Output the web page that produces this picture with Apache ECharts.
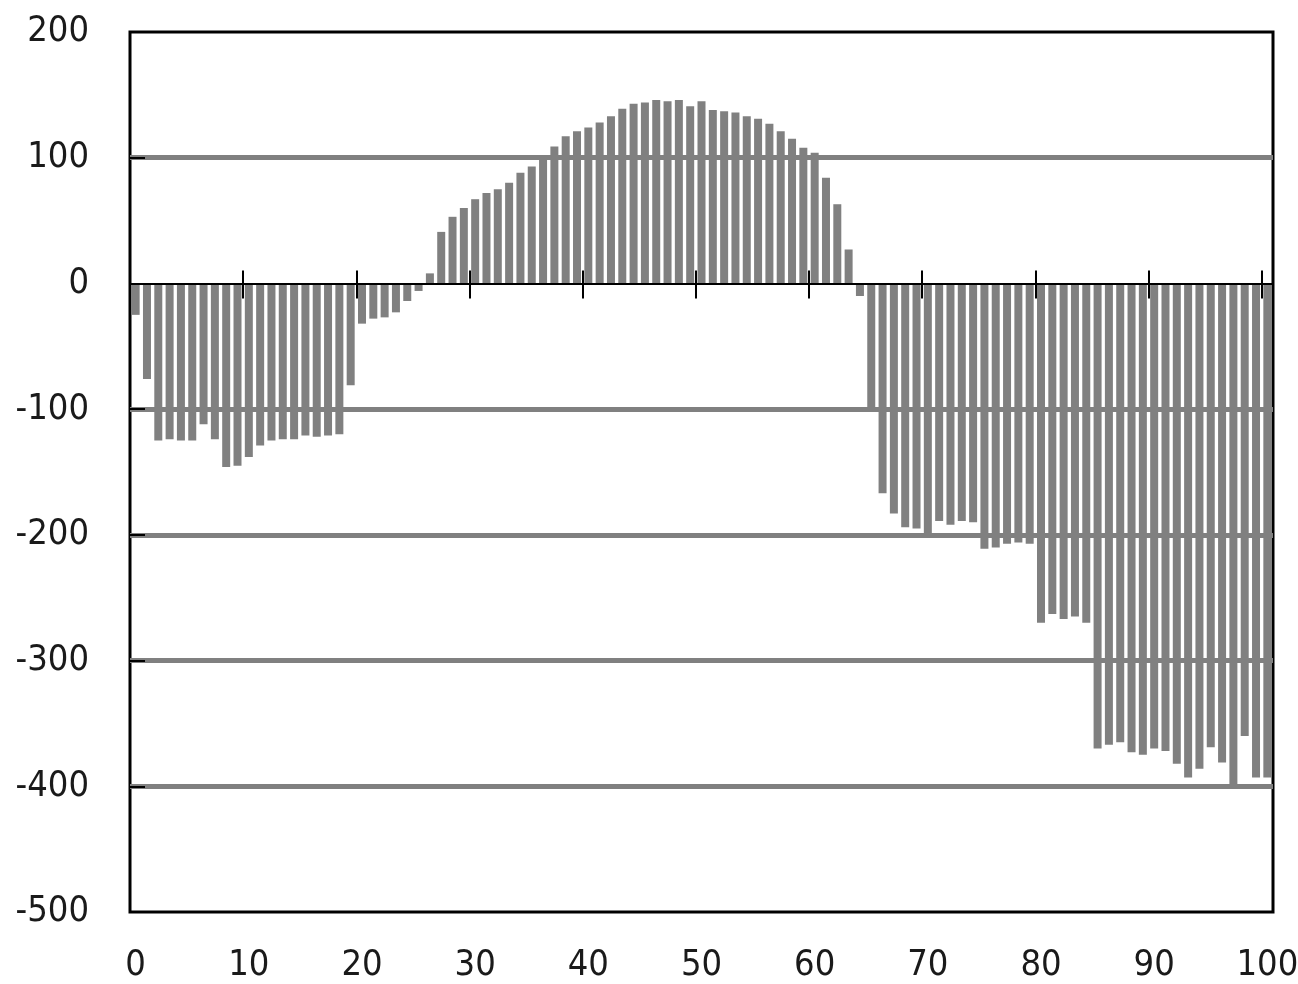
<!DOCTYPE html>
<html>
<head>
<meta charset="utf-8">
<script src="https://cdn.jsdelivr.net/npm/echarts@6/dist/echarts.min.js"></script>
<style>
html,body{margin:0;padding:0;background:#fff;}
#chart{width:1298px;height:984px;}
</style>
</head>
<body>
<div id="chart"></div>
<script>
// category index labels 0..100
const categories = Array.from({length: 101}, (_, i) => String(i));
const values = [
  -25, -76, -125, -124, -125, -125, -112, -124, -146, -145,
  -138, -129, -125, -124, -124, -121, -122, -121, -120, -81,
  -32, -28, -27, -23, -14, -6, 8, 41, 53, 60,
  67, 72, 75, 80, 88, 93, 102, 109, 117, 121,
  124, 128, 133, 139, 143, 144, 146, 145, 146, 141,
  145, 138, 137, 136, 133, 131, 127, 121, 115, 108,
  104, 84, 63, 27, -10, -99, -167, -183, -194, -195,
  -200, -189, -192, -189, -190, -211, -210, -207, -206, -207,
  -270, -263, -267, -265, -270, -370, -367, -365, -373, -375,
  -370, -372, -382, -393, -386, -369, -381, -400, -360, -393,
  -393
];
const yMin = -500, yMax = 200, yStep = 100;

const FONT = "'Liberation Sans Narrow', 'DejaVu Sans Condensed', sans-serif";
const chart = echarts.init(document.getElementById('chart'));
const labelStyle = {fontFamily: FONT, fontSize: 36, color: '#1a1a1a'};

chart.setOption({
  animation: false,
  grid: {left: 130, right: 25, top: 32, bottom: 72, show: true,
         outerBoundsMode: 'none', containLabel: false,
         borderColor: '#000', borderWidth: 3, backgroundColor: 'transparent'},
  xAxis: [
    {type: 'category', data: categories, boundaryGap: true, position: 'bottom',
     axisLine: {show: false, onZero: false}, axisTick: {show: false},
     splitLine: {show: false},
     axisLabel: Object.assign({interval: 9, margin: 36}, labelStyle)},
    {type: 'category', data: categories, boundaryGap: true, z: 10, position: 'bottom',
     axisLine: {show: true, onZero: true, onZeroAxisIndex: 0, lineStyle: {color: '#000', width: 2}},
     axisTick: {show: true, interval: 9, inside: true, length: 13, lineStyle: {color: '#000', width: 2}},
     axisLabel: {show: false}, splitLine: {show: false}},
    {type: 'category', data: categories, boundaryGap: true, z: 10, position: 'bottom',
     axisLine: {show: false, onZero: true, onZeroAxisIndex: 0},
     axisTick: {show: true, interval: 9, inside: false, length: 15, lineStyle: {color: '#000', width: 2}},
     axisLabel: {show: false}, splitLine: {show: false}}
  ],
  yAxis: {
    type: 'value', min: yMin, max: yMax, interval: yStep,
    axisLine: {show: false},
    axisTick: {show: true, inside: true, length: 15, lineStyle: {color: '#000', width: 2}},
    axisLabel: Object.assign({margin: 41}, labelStyle),
    splitLine: {show: true, lineStyle: {width: 5,
      color: ['rgba(0,0,0,0)', '#808080', '#808080', '#808080', '#808080', 'rgba(0,0,0,0)', '#808080', 'rgba(0,0,0,0)']}}
  },
  series: [{
    type: 'bar', xAxisIndex: 0, data: values, barWidth: 8,
    itemStyle: {color: '#808080'}, z: 2
  }]
});
</script>
</body>
</html>
